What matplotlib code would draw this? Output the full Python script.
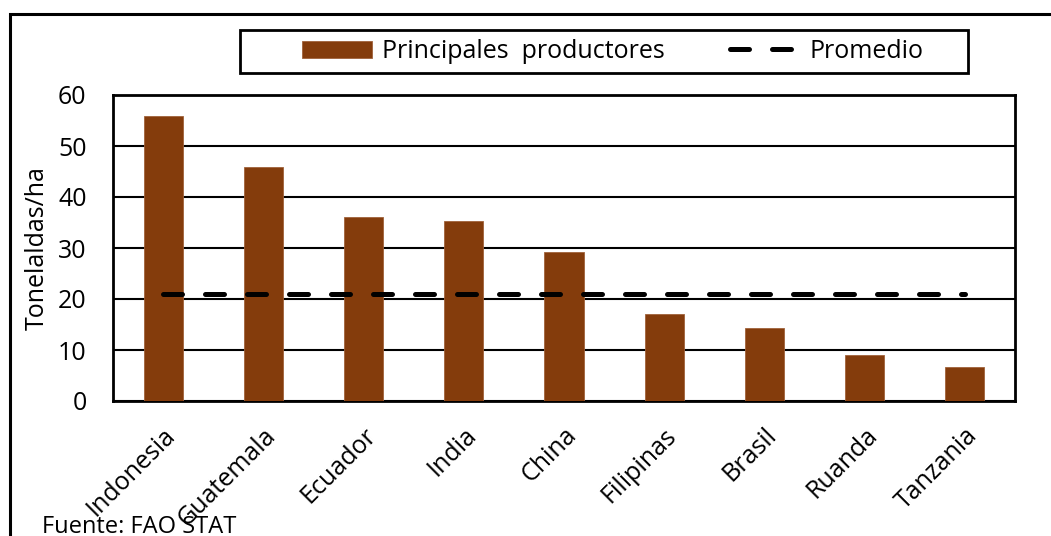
import matplotlib
matplotlib.use("Agg")
import matplotlib.pyplot as plt
from matplotlib.patches import Rectangle
import matplotlib.transforms as mtransforms

categories = ["Indonesia", "Guatemala", "Ecuador", "India", "China",
              "Filipinas", "Brasil", "Ruanda", "Tanzania"]
productores = [55.8, 45.9, 36.1, 35.3, 29.3, 17.0, 14.4, 9.0, 6.6]
promedio = [21.0] * len(categories)
yticks = [0, 10, 20, 30, 40, 50, 60]

plt.rcParams['font.family'] = ['Open Sans', 'DejaVu Sans']

W, H = 1051, 536
FS = 18
fig = plt.figure(figsize=(W / 100, H / 100), dpi=100)

# outer chart border (partially visible)
fig.patches.append(Rectangle((10 / W, -0.1), 1.2, 1 - 14 / H + 0.1,
                             transform=fig.transFigure, fill=False,
                             edgecolor='black', linewidth=2.2))

ax = fig.add_axes([113 / W, 1 - 401 / H, (1015 - 113) / W, (401 - 95) / H])
x = list(range(len(categories)))
bars = ax.bar(x, productores, width=0.39, color='#843C0C',
              edgecolor='#A0623A', linewidth=0.6, zorder=3,
              label='Principales  productores')
line, = ax.plot(x, promedio, color='black', linewidth=3.6,
                dashes=(3.8, 4.6), dash_capstyle='round', zorder=4,
                label='Promedio')

ax.set_xlim(-0.5, len(categories) - 0.5)
ax.set_ylim(0, 60)
ax.set_yticks(yticks)
ax.set_yticklabels([str(v) for v in yticks], fontsize=FS)
ax.yaxis.grid(True, color='black', linewidth=1.5, zorder=1)
ax.set_axisbelow(True)
ax.tick_params(axis='y', length=0, pad=19)
ax.tick_params(axis='x', length=0, pad=0)
ax.set_xticks(x)
ax.set_xticklabels(categories, rotation=45, ha='right', va='top',
                   rotation_mode='anchor', fontsize=FS)
offset = mtransforms.ScaledTranslation(0 / 100, -22 / 100, fig.dpi_scale_trans)
for lbl in ax.get_xticklabels():
    lbl.set_transform(lbl.get_transform() + offset)
for s in ax.spines.values():
    s.set_color('black')
    s.set_linewidth(2)

fig.text(37 / W, 1 - 248 / H, 'Tonelaldas/ha', fontsize=FS, rotation=90,
         ha='center', va='center')

# legend box
fig.patches.append(Rectangle((240 / W, 1 - 73 / H), (968 - 240) / W, 43 / H,
                             transform=fig.transFigure, fill=False,
                             edgecolor='black', linewidth=2))
leg = fig.legend(handles=[bars, line], loc='center left',
                 bbox_to_anchor=(302 / W, 1 - 51.5 / H),
                 ncol=2, fontsize=FS, frameon=False, columnspacing=2.6,
                 handlelength=2.8, borderpad=0, handletextpad=0.4,
                 borderaxespad=0)

fig.text(42 / W, 1 - 533 / H, 'Fuente: FAO STAT', fontsize=17,
         va='baseline', ha='left')

fig.savefig('out.png', dpi=100)
